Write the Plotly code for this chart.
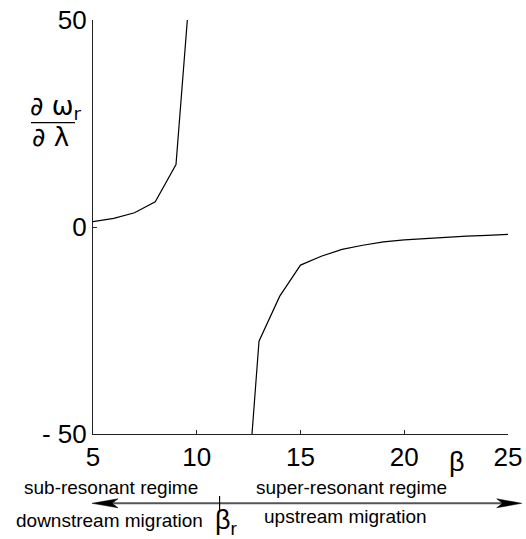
import plotly.graph_objects as go

# Branch below resonance (sub-resonant)
beta_sub = [5, 6, 7, 8, 9, 10]
dw_sub = [1.3, 2.1, 3.45, 6.1, 15.1, 79.0]

# Branch above resonance (super-resonant)
beta_sup = [12, 13, 14, 15, 16, 17, 18, 19, 20, 21, 22, 23, 24, 25]
dw_sup = [-94.0, -27.6, -16.7, -9.2, -7.06, -5.4, -4.4, -3.6, -3.1, -2.8, -2.4, -2.2, -2.0, -1.8]

beta_r = 11.1

x_ticks = [5, 10, 15, 20, 25]
y_ticks = [-50, 0, 50]
y_ticktext = ["- 50", "0", "50"]

W, H = 526, 539
ML, MR, MT, MB = 93, 18, 20, 105
PW, PH = W - ML - MR, H - MT - MB


def px(p):
    return (p - ML) / PW


def py(p):
    return (H - MB - p) / PH


fig = go.Figure()
line_style = dict(color="black", width=1.2)
fig.add_trace(go.Scatter(x=beta_sub, y=dw_sub, mode="lines", line=line_style,
                         hoverinfo="skip", showlegend=False))
fig.add_trace(go.Scatter(x=beta_sup, y=dw_sup, mode="lines", line=line_style,
                         hoverinfo="skip", showlegend=False))

font_family = "Liberation Sans, Arial, Helvetica, sans-serif"
sym_family = "DejaVu Sans, Liberation Sans, sans-serif"
axis_common = dict(showline=True, linecolor="#222", linewidth=1.2, ticks="inside",
                   ticklen=4, tickcolor="#222", showgrid=False, zeroline=False,
                   mirror=False, automargin=False,
                   tickfont=dict(family=font_family, size=26, color="black"))

fig.update_layout(
    width=W, height=H, autosize=False,
    margin=dict(l=ML, r=MR, t=MT, b=MB),
    paper_bgcolor="white", plot_bgcolor="white",
    xaxis=dict(range=[5, 25], tickvals=x_ticks, **axis_common),
    yaxis=dict(range=[-50, 50], tickvals=y_ticks, ticktext=y_ticktext, **axis_common),
)

ann = []


def text(x, y, s, size, xanchor="center", family=font_family):
    ann.append(dict(x=x, y=y, xref="paper", yref="paper", text=s, showarrow=False,
                    xanchor=xanchor, yanchor="middle",
                    font=dict(family=family, size=size, color="black")))


# y-axis label as a fraction
text(px(55), py(108), "∂ ω<sub>r</sub>", 26, family=sym_family)
text(px(50), py(137), "∂ λ", 26, family=sym_family)
# x-axis label
text(px(457), py(462), "β", 27)
# regime labels
text(px(22), py(488), "sub-resonant regime", 19, "left")
text(px(254), py(488), "super-resonant regime", 19, "left")
text(px(14), py(520), "downstream migration", 19, "left")
text(px(262), py(516), "upstream migration", 19, "left")
text(px(226), py(522), "β<sub>r</sub>", 27)
fig.update_layout(annotations=ann)

gray = "#555"
ya = py(503.3)
shapes = [
    # fraction bar
    dict(type="line", xref="paper", yref="paper", x0=px(31), x1=px(75),
         y0=py(122.7), y1=py(122.7), line=dict(color="black", width=1.2)),
    # double-headed migration arrow
    dict(type="line", xref="paper", yref="paper", x0=px(105), x1=px(510),
         y0=ya, y1=ya, line=dict(color=gray, width=2)),
    # resonance marker
    dict(type="line", xref="x", yref="paper", x0=beta_r, x1=beta_r,
         y0=py(496), y1=py(510), line=dict(color="black", width=1.2)),
]


def head(tip, back, notch):
    return (f"M {px(tip)},{ya} L {px(back)},{py(498.8)} L {px(notch)},{ya} "
            f"L {px(back)},{py(507.8)} Z")


for path in (head(521.7, 496.7, 502.5), head(92, 118, 112)):
    shapes.append(dict(type="path", xref="paper", yref="paper", path=path,
                       fillcolor="black", line=dict(color="black", width=0.5)))
fig.update_layout(shapes=shapes)

fig.write_html("out.html", config={"responsive": False})
